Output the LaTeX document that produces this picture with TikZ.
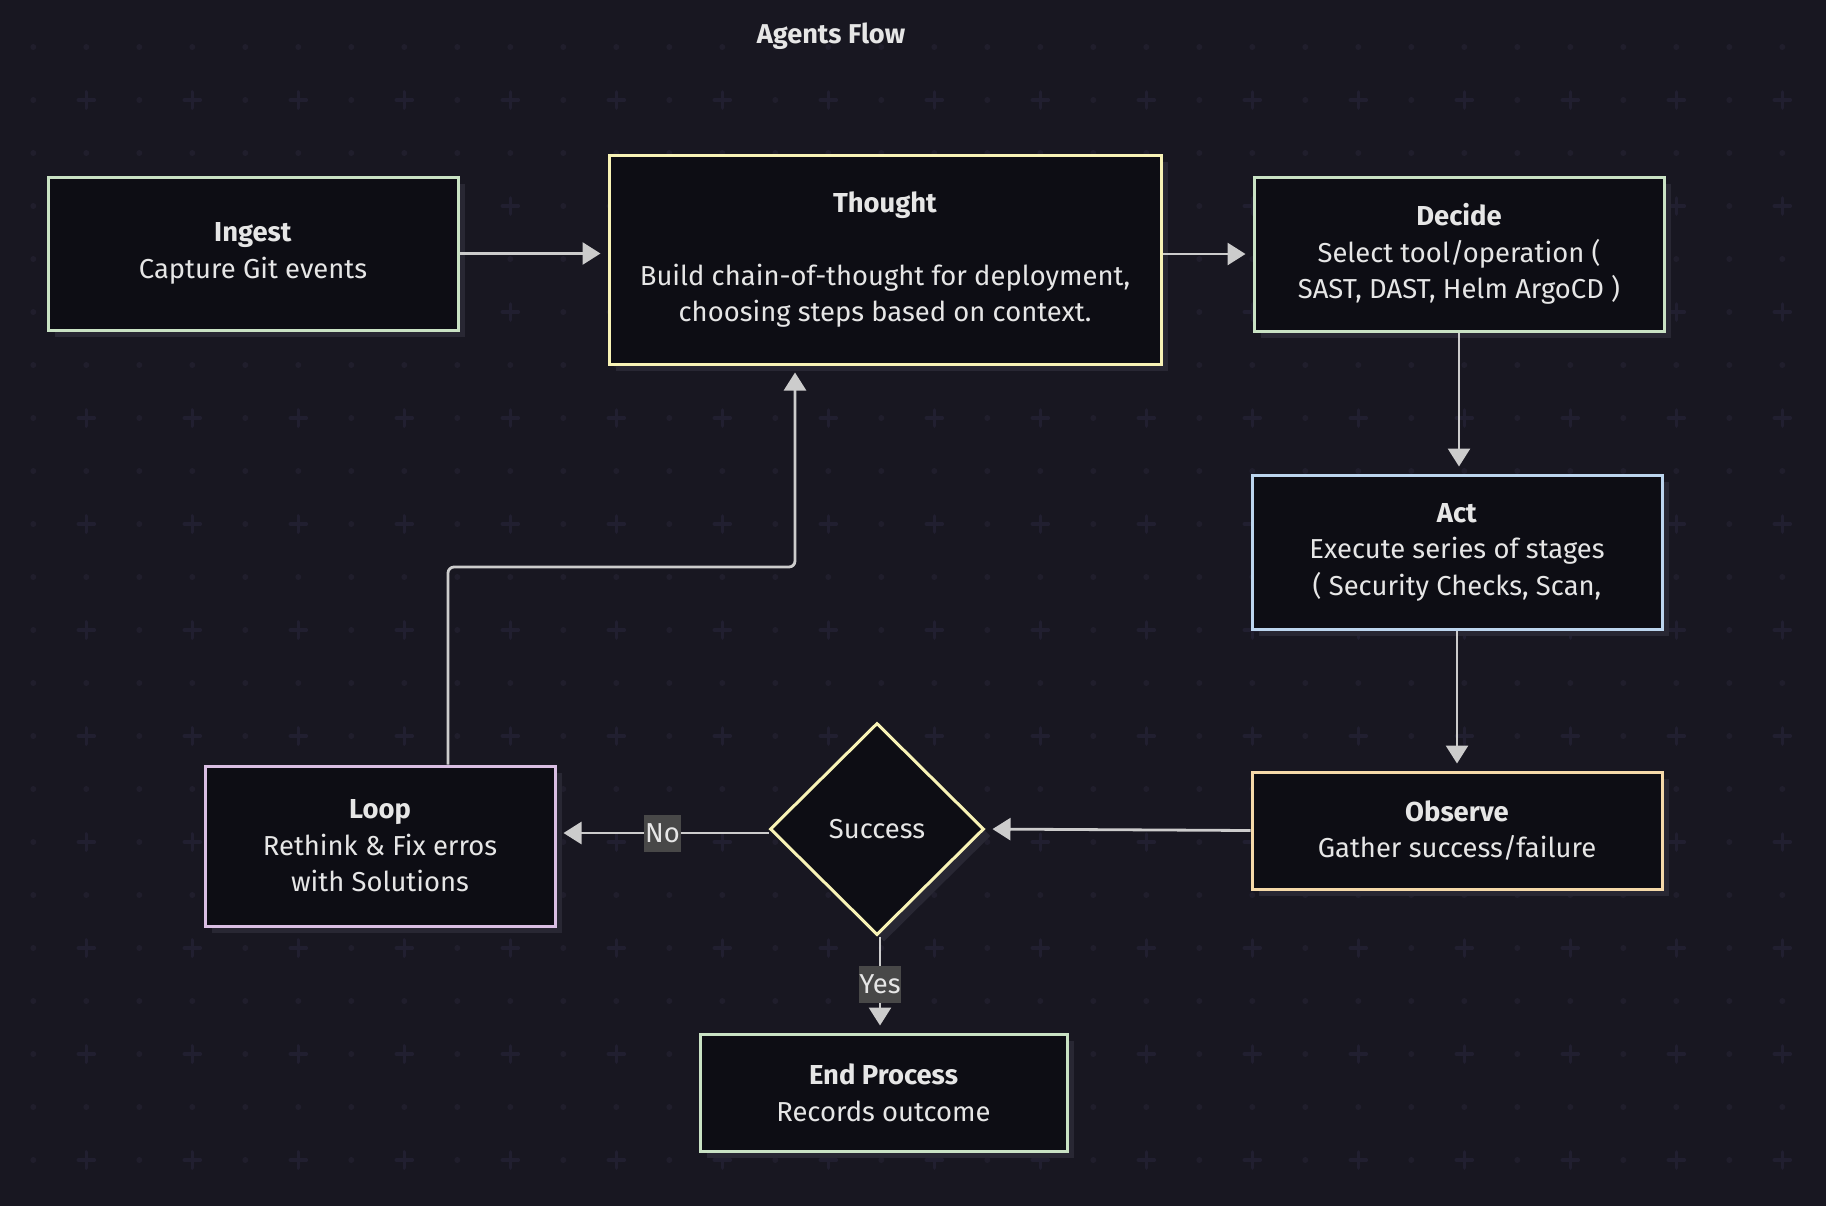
\documentclass[tikz,border=0pt]{standalone}
\usepackage{fontspec}
\setmainfont{Fira Sans}
\usepackage{tikz}
\usetikzlibrary{shapes.geometric}
\usetikzlibrary{arrows.meta}
\usetikzlibrary{shadows}

\definecolor{bgc}{HTML}{181721}
\definecolor{dotc}{HTML}{201E2C}
\definecolor{plusc}{HTML}{211F30}
\definecolor{boxc}{HTML}{0D0D14}
\definecolor{shadec}{HTML}{282733}
\definecolor{txtc}{HTML}{E6E6E6}
\definecolor{linec}{HTML}{CCCCCC}
\definecolor{tagc}{HTML}{484848}
\definecolor{mint}{HTML}{C9E2C4}
\definecolor{lemon}{HTML}{F8F3B6}
\definecolor{sky}{HTML}{BCD5EE}
\definecolor{peach}{HTML}{F5D9A9}
\definecolor{lilac}{HTML}{D9BEE3}

\tikzset{
  stage/.style={draw=#1, fill=boxc, line width=1.5pt, text=txtc, align=center,
    font=\fontsize{13.7}{18.25}\selectfont, inner sep=0pt, minimum width=205pt,
    drop shadow={shadow xshift=3.5pt, shadow yshift=-3.5pt, fill=shadec, opacity=1}},
  choice/.style={stage=#1, diamond, minimum width=107pt, minimum height=106pt},
  flow/.style={draw=linec, line width=1.4pt, -{Triangle[width=11pt,length=9pt]}, shorten >=3.5pt},
  tag/.style={fill=tagc, text=txtc, font=\fontsize{13.7}{18.25}\selectfont,
    inner xsep=0.4pt, inner ysep=0pt, minimum height=18.5pt},
}

\begin{document}
\begin{tikzpicture}[x=0.5pt, y=-0.5pt]
	\useasboundingbox (0,0) rectangle (1826,1206);
	\fill[bgc] (0,0) rectangle (1826,1206);
	\foreach \k in {0,...,33}{
		\foreach \j in {0,...,21}{
			\pgfmathsetmacro\px{33.3+53*\k}
			\pgfmathsetmacro\py{47+53*\j}
			\ifodd\k\ifodd\j
				\draw[plusc, line width=1.8pt, line cap=round] (\px-8,\py) -- (\px+8,\py) (\px,\py-8) -- (\px,\py+8);
			\else
				\fill[dotc] (\px,\py) circle (3);
			\fi\else
				\fill[dotc] (\px,\py) circle (3);
			\fi
		}
	}

	\node[text=txtc, font=\bfseries\fontsize{13.6}{15}\selectfont] (title) at (831,36){Agents Flow};

	\node[stage=mint, minimum height=76.5pt] (ingest) at (253,253.5){\textbf{Ingest}\\Capture Git events};
	\node[stage=lemon, minimum width=276pt, minimum height=104.5pt] (thought) at (885,259.5){\textbf{Thought}\\[18.25pt]Build chain-of-thought for deployment,\\choosing steps based on context.};
	\node[stage=mint, minimum height=77pt] (decide) at (1459,254){\textbf{Decide}\\Select tool/operation (\\SAST, DAST, Helm ArgoCD )};
	\node[stage=sky, minimum height=77pt] (act) at (1457,552){\textbf{Act}\\Execute series of stages\\( Security Checks, Scan,};
	\node[stage=peach, minimum height=58.5pt] (observe) at (1457,830.5){\textbf{Observe}\\Gather success/failure};
	\node[choice=lemon] (success) at (877,829){Success};
	\node[stage=lilac, minimum width=175pt, minimum height=80pt] (rethink) at (380,846){\textbf{Loop}\\Rethink \& Fix erros\\with Solutions};
	\node[stage=mint, minimum width=183.5pt, minimum height=58.5pt] (finish) at (883.5,1092.5){\textbf{End Process}\\Records outcome};

	\coordinate (turn) at (795,567);

	\draw[flow] (ingest.east) -- (ingest.east -| thought.west);
	\draw[flow] (decide.west -| thought.east) -- (decide.west);
	\draw[flow] (decide.south) -- (decide.south |- act.north);
	\draw[flow] (act.south) -- (act.south |- observe.north);
	\draw[flow] (observe.west) -- (success.east);
	\draw[flow] ([yshift=-2pt]success.west) -- ([yshift=-2pt]success.west -| rethink.east) node[tag, midway]{No};
	\draw[flow] ([xshift=1.5pt]success.south) -- ([xshift=1.5pt]success.south |- finish.north) node[tag, midway]{Yes};
	\draw[flow, rounded corners=3pt] ([xshift=34pt]rethink.north) |- (turn) -- (turn |- thought.south);
\end{tikzpicture}
\end{document}
